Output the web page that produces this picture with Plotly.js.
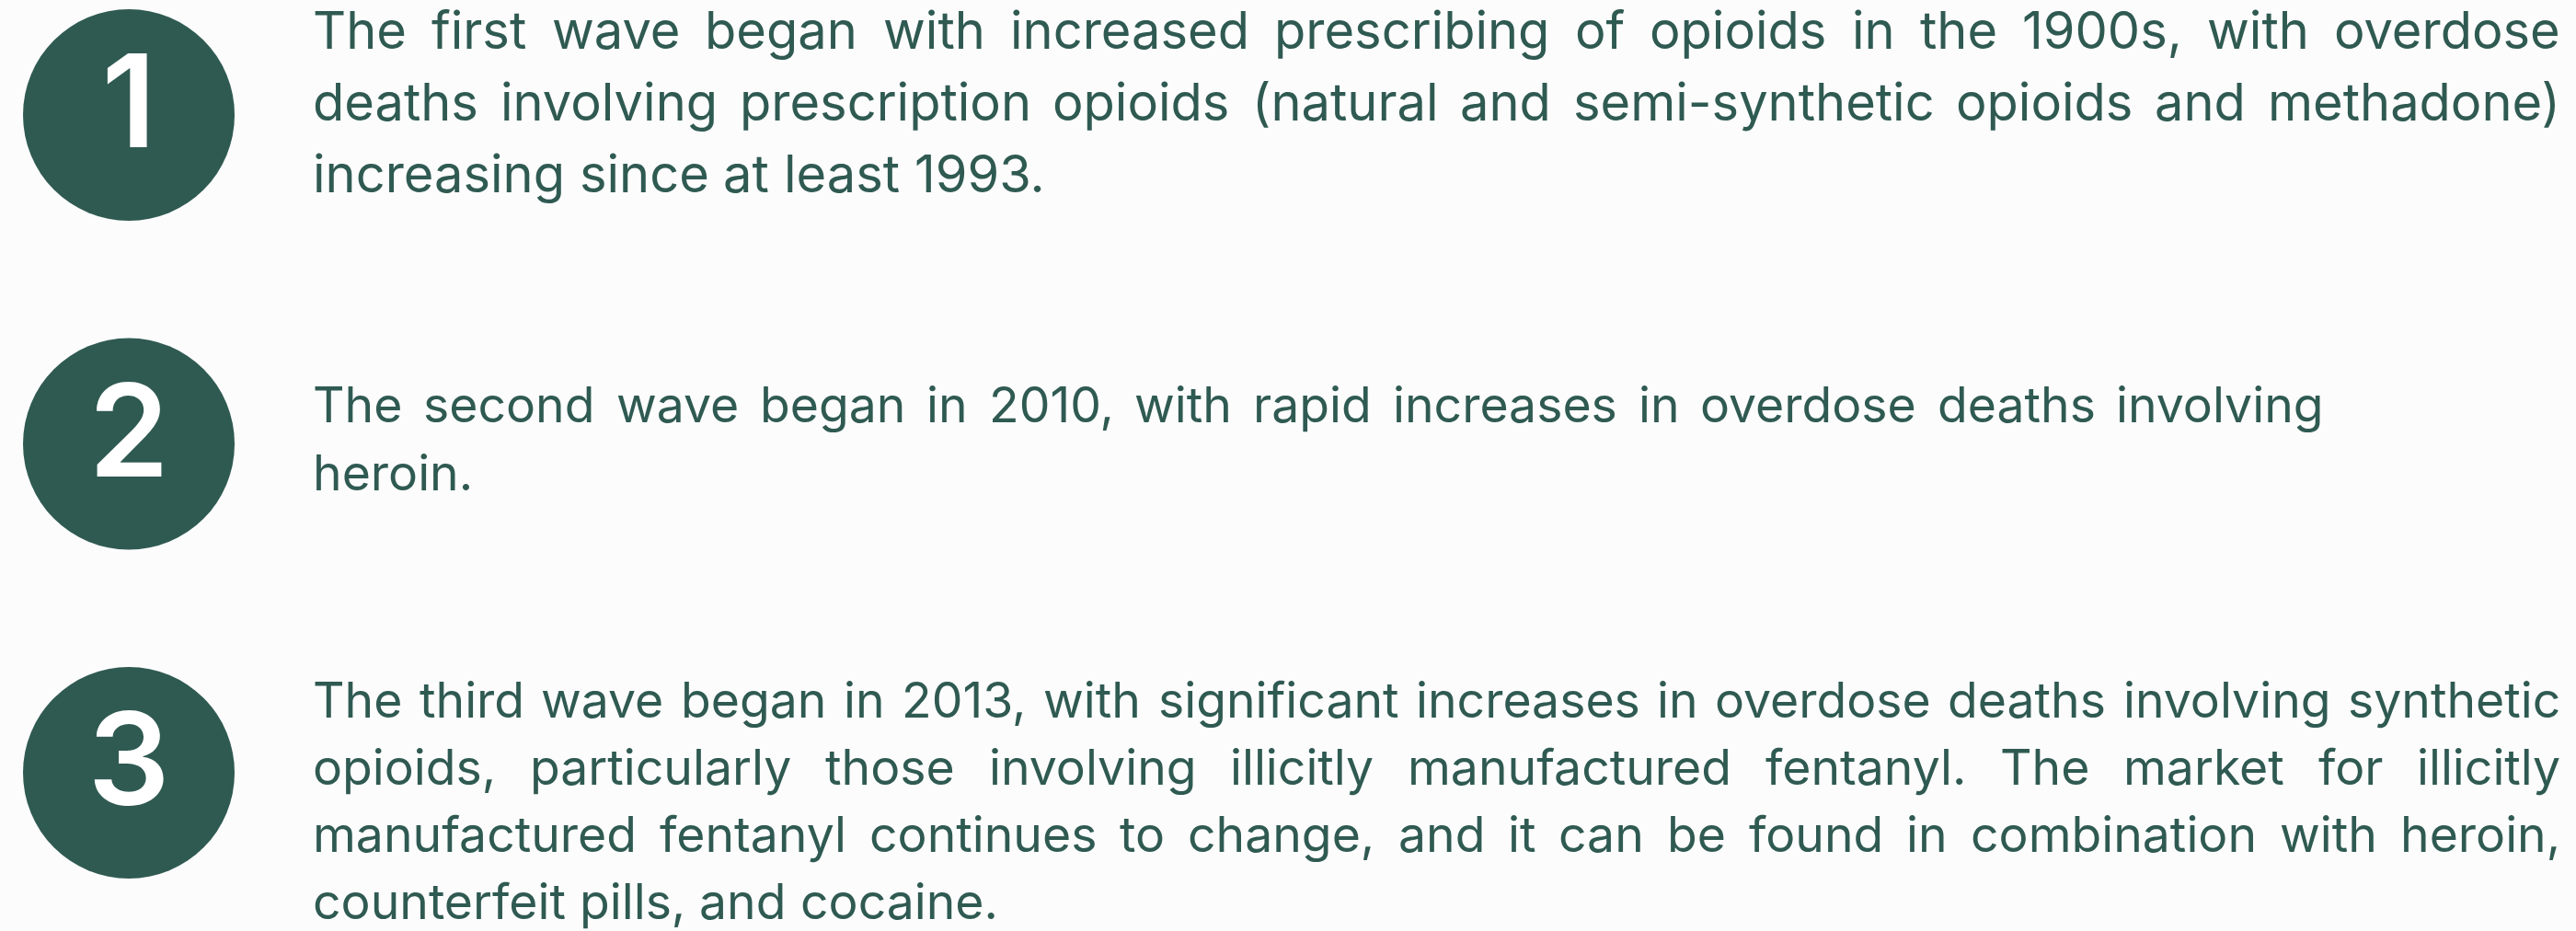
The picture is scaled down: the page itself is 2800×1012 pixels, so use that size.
<!DOCTYPE html>
<html>
<head>
<meta charset="utf-8">
<script src="https://cdn.plot.ly/plotly-3.0.1.min.js"></script>
<style>html,body{margin:0;padding:0;background:#fcfcfc;overflow:hidden}</style>
</head>
<body>
<div id="chart" style="width:2800px;height:1012px"></div>
<script>
// ---- content ----
const waveNumbers = ['1', '2', '3'];
const wave1Lines = [
  'The first wave began with increased prescribing of opioids in the 1900s, with overdose',
  'deaths involving prescription opioids (natural and semi-synthetic opioids and methadone)',
  'increasing since at least 1993.'
];
const wave2Lines = [
  'The second wave began in 2010, with rapid increases in overdose deaths involving',
  'heroin.'
];
const wave3Lines = [
  'The third wave began in 2013, with significant increases in overdose deaths involving synthetic',
  'opioids, particularly those involving illicitly manufactured fentanyl. The market for illicitly',
  'manufactured fentanyl continues to change, and it can be found in combination with heroin,',
  'counterfeit pills, and cocaine.'
];

// ---- layout / style ----
const W = 2800, H = 1012;
const INK = '#2f5a52';
const BG = '#fcfcfc';
const ROW0 = 125, ROW_STEP = 357.5;
const CIRCLE_X = 140, CIRCLE_D = 230;
const FONT = 'Inter';
const blocks = [
  {lines: wave1Lines, size: 56,   lead: 78, firstBaseline: 53,  left: 339, right: 2782},
  {lines: wave2Lines, size: 53.5, lead: 74, firstBaseline: 459, left: 339, right: 2525},
  {lines: wave3Lines, size: 53.5, lead: 73, firstBaseline: 780, left: 339, right: 2782}
];

const ctx = document.createElement('canvas').getContext('2d');
function measure(t, size) { ctx.font = size + 'px ' + FONT; return ctx.measureText(t).width; }

const annotations = [];
blocks.forEach(b => {
  b.lines.forEach((line, li) => {
    const words = line.split(' ');
    const widths = words.map(w => measure(w, b.size));
    const isLast = li === b.lines.length - 1;
    let gap = measure(' ', b.size);
    if (!isLast && words.length > 1) {
      const total = widths.reduce((a, c) => a + c, 0);
      gap = (b.right - b.left - total) / (words.length - 1);
    }
    const baseline = b.firstBaseline + li * b.lead;
    let x = b.left;
    words.forEach((w, wi) => {
      annotations.push({
        xref: 'x', yref: 'y', x: x, y: baseline - 0.3635 * b.size,
        xanchor: 'left', yanchor: 'middle', showarrow: false, borderpad: 0,
        text: w, font: {family: FONT, size: b.size, color: INK}
      });
      x += widths[wi] + gap;
    });
  });
});

const circles = {
  type: 'scatter', mode: 'markers+text',
  x: waveNumbers.map(() => CIRCLE_X),
  y: waveNumbers.map((_, i) => ROW0 + i * ROW_STEP),
  text: waveNumbers, textposition: 'middle center',
  textfont: {family: FONT, size: 140, color: '#ffffff', weight: 600},
  marker: {size: CIRCLE_D, color: INK, line: {width: 0}},
  hoverinfo: 'skip', cliponaxis: false, showlegend: false
};

const layout = {
  width: W, height: H,
  margin: {l: 0, r: 0, t: 0, b: 0, pad: 0},
  paper_bgcolor: BG, plot_bgcolor: BG,
  xaxis: {range: [0, W], visible: false, fixedrange: true},
  yaxis: {range: [H, 0], visible: false, fixedrange: true},
  annotations: annotations,
  showlegend: false
};

Plotly.newPlot('chart', [circles], layout, {staticPlot: true, displayModeBar: false});
</script>
</body>
</html>
